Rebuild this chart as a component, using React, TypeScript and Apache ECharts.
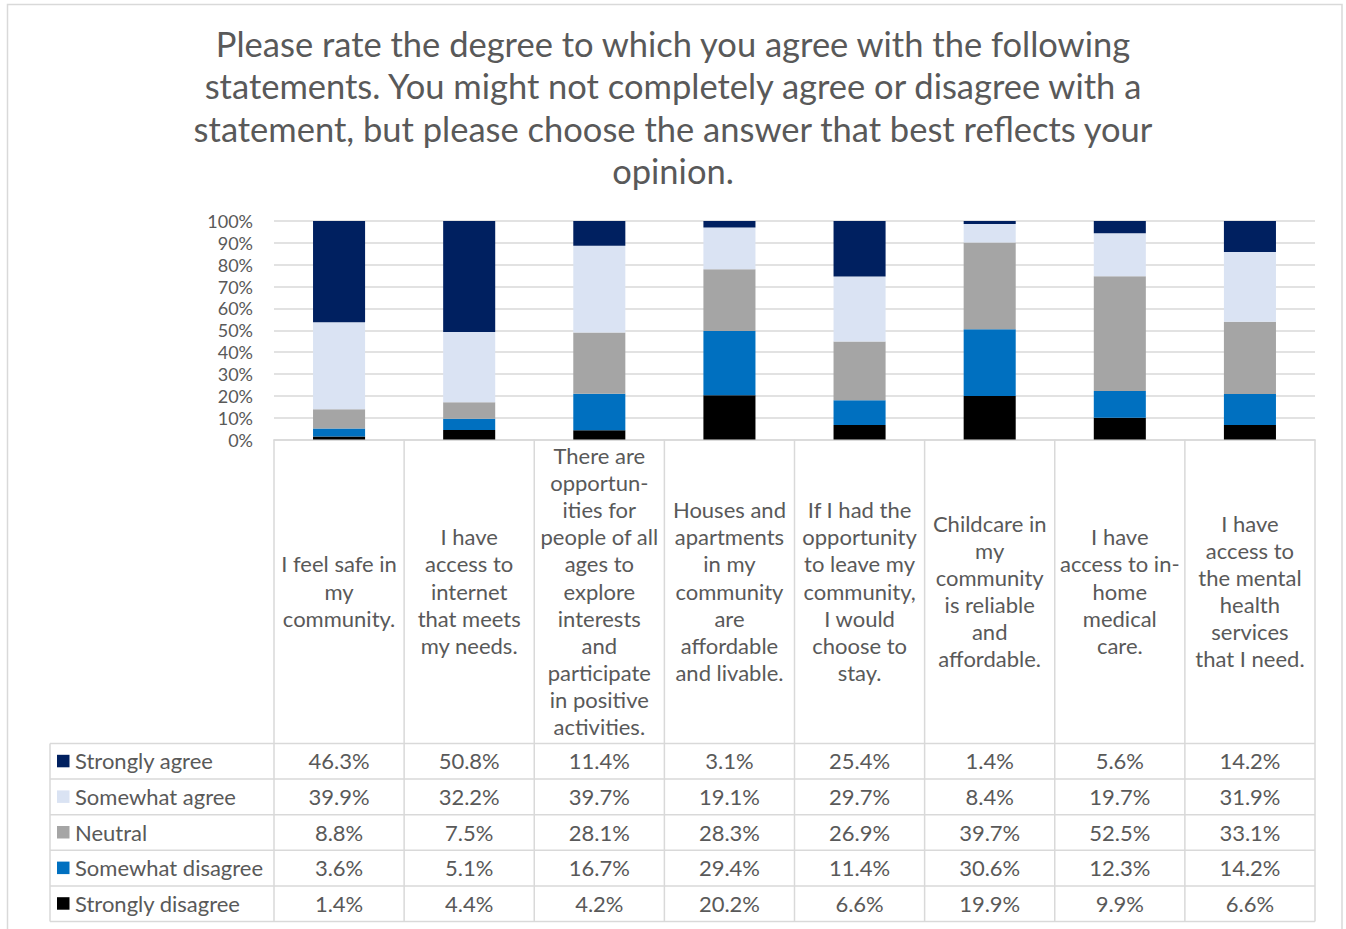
import React, { useEffect, useRef } from "react";
import * as echarts from "echarts";

const titleLines = [
  "Please rate the degree to which you agree with the following",
  "statements. You might not completely agree or disagree with a",
  "statement, but please choose the answer that best reflects your",
  "opinion.",
];

const categories = [
  "I feel safe in\nmy\ncommunity.",
  "I have\naccess to\ninternet\nthat meets\nmy needs.",
  "There are\nopportun-\nities for\npeople of all\nages to\nexplore\ninterests\nand\nparticipate\nin positive\nactivities.",
  "Houses and\napartments\nin my\ncommunity\nare\naffordable\nand livable.",
  "If I had the\nopportunity\nto leave my\ncommunity,\nI would\nchoose to\nstay.",
  "Childcare in\nmy\ncommunity\nis reliable\nand\naffordable.",
  "I have\naccess to in-\nhome\nmedical\ncare.",
  "I have\naccess to\nthe mental\nhealth\nservices\nthat I need.",
];

const stronglyAgree = [46.3, 50.8, 11.4, 3.1, 25.4, 1.4, 5.6, 14.2];
const somewhatAgree = [39.9, 32.2, 39.7, 19.1, 29.7, 8.4, 19.7, 31.9];
const neutral = [8.8, 7.5, 28.1, 28.3, 26.9, 39.7, 52.5, 33.1];
const somewhatDisagree = [3.6, 5.1, 16.7, 29.4, 11.4, 30.6, 12.3, 14.2];
const stronglyDisagree = [1.4, 4.4, 4.2, 20.2, 6.6, 19.9, 9.9, 6.6];

const seriesNames = [
  "Strongly agree",
  "Somewhat agree",
  "Neutral",
  "Somewhat disagree",
  "Strongly disagree",
];
const seriesData = [stronglyAgree, somewhatAgree, neutral, somewhatDisagree, stronglyDisagree];
const seriesColors = ["#002060", "#DAE3F3", "#A5A5A5", "#0070C0", "#000000"];

const yMin = 0;
const yMax = 100;
const yInterval = 10;

export default function App() {
  const ref = useRef<HTMLDivElement>(null);

  useEffect(() => {
    if (!ref.current) return;
    const chart = echarts.init(ref.current, undefined, { renderer: "svg" });

    const W = 1346;
    const gridL = 274;
    const gridR = 1315;
    const gridT = 221;
    const gridB = 439.5;
    const colW = (gridR - gridL) / categories.length;
    const tableTop = 743.5;
    const rowH = 35.6;
    const legendLeft = 50;
    const lineColor = "#D9D9D9";
    const textColor = "#595959";
    const font = "Lato, 'Noto Sans', sans-serif";
    const fs = 22;

    const graphics: any[] = [];
    graphics.push({
      type: "rect",
      shape: { x: 7.5, y: 4.5, width: 1334.5, height: 940 },
      style: { fill: "none", stroke: lineColor, lineWidth: 1.5 },
      silent: true,
    });
    const nRows = seriesNames.length;
    const tableBottom = tableTop + rowH * nRows;
    for (let k = 0; k <= nRows; k++) {
      const y = tableTop + k * rowH;
      graphics.push({
        type: "line",
        shape: { x1: legendLeft, y1: y, x2: gridR, y2: y },
        style: { stroke: lineColor, lineWidth: 1.5 },
        silent: true,
      });
    }
    graphics.push({
      type: "line",
      shape: { x1: legendLeft, y1: tableTop, x2: legendLeft, y2: tableBottom },
      style: { stroke: lineColor, lineWidth: 1.5 },
      silent: true,
    });
    for (let i = 0; i <= categories.length; i++) {
      const x = gridL + i * colW;
      graphics.push({
        type: "line",
        shape: { x1: x, y1: gridB, x2: x, y2: tableBottom },
        style: { stroke: lineColor, lineWidth: 1.5 },
        silent: true,
      });
    }
    seriesNames.forEach((name, r) => {
      const cy = tableTop + rowH * (r + 0.5);
      graphics.push({
        type: "rect",
        shape: { x: 57, y: cy - 6.5, width: 12.5, height: 12.5 },
        style: { fill: seriesColors[r] },
        silent: true,
      });
      graphics.push({
        type: "text",
        x: 75,
        y: cy - 0.5,
        style: {
          text: name,
          fill: textColor,
          font: `${fs}px ${font}`,
          align: "left",
          verticalAlign: "middle",
          textAlign: "left",
          textVerticalAlign: "middle",
        },
        silent: true,
      });
      seriesData[r].forEach((v, i) => {
        graphics.push({
          type: "text",
          x: gridL + colW * (i + 0.5),
          y: cy - 0.5,
          style: {
            text: `${v.toFixed(1)}%`,
            fill: textColor,
            font: `${fs}px ${font}`,
            align: "center",
            verticalAlign: "middle",
            textAlign: "center",
            textVerticalAlign: "middle",
          },
          silent: true,
        });
      });
    });

    const stackOrder = [4, 3, 2, 1, 0];

    chart.setOption({
      animation: false,
      backgroundColor: "#ffffff",
      title: {
        text: titleLines.join("\n"),
        left: "center",
        top: 17,
        textStyle: {
          color: textColor,
          fontSize: 34.5,
          fontWeight: "normal",
          fontFamily: font,
          lineHeight: 42.5,
        },
      },
      grid: {
        left: gridL,
        right: W - gridR,
        top: gridT,
        bottom: 929 - gridB,
        containLabel: false,
      },
      xAxis: {
        type: "category",
        data: categories,
        axisTick: { show: false },
        axisLine: { show: true, lineStyle: { color: lineColor, width: 1.5 } },
        axisLabel: {
          interval: 0,
          margin: 151.5,
          verticalAlign: "middle",
          align: "center",
          lineHeight: 27.1,
          fontSize: fs,
          color: textColor,
          fontFamily: font,
        },
      },
      yAxis: {
        type: "value",
        min: yMin,
        max: yMax,
        interval: yInterval,
        axisLine: { show: false },
        axisTick: { show: false },
        splitLine: { lineStyle: { color: lineColor, width: 1.5 } },
        axisLabel: {
          formatter: "{value}%",
          margin: 21,
          fontSize: 18,
          color: textColor,
          fontFamily: font,
          lineHeight: 18,
        },
      },
      series: stackOrder.map((idx) => ({
        name: seriesNames[idx],
        type: "bar",
        stack: "total",
        barWidth: "40%",
        data: seriesData[idx],
        itemStyle: { color: seriesColors[idx] },
        silent: true,
      })),
      graphic: graphics,
    });

    return () => {
      chart.dispose();
    };
  }, []);

  return (
    <div
      ref={ref}
      style={{ position: "absolute", left: 0, top: 0, width: 1346, height: 929 }}
    />
  );
}
